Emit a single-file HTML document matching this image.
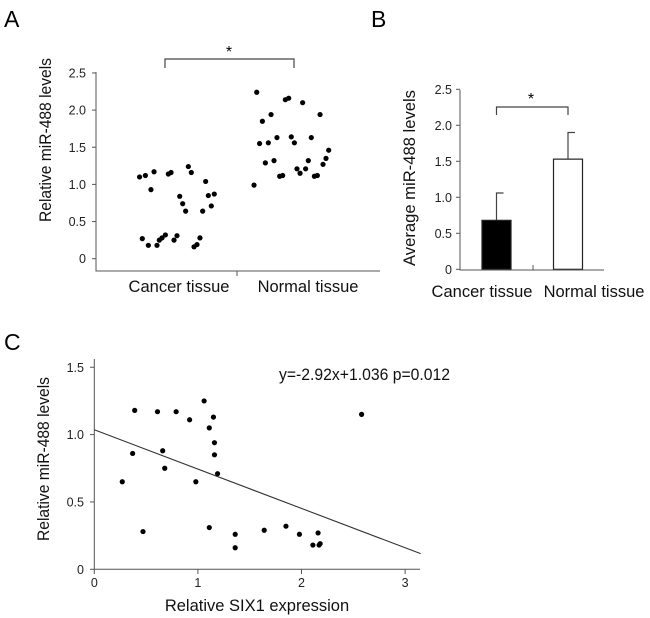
<!DOCTYPE html>
<html><head><meta charset="utf-8"><style>
html,body{margin:0;padding:0;background:#fff;}
svg{display:block;font-family:"Liberation Sans",Arial,sans-serif;}
</style></head><body>
<svg id="fig" width="650" height="618" viewBox="0 0 650 618">
<text x="4" y="27" font-size="23">A</text>
<text x="371" y="27" font-size="23">B</text>
<text x="4" y="350" font-size="23">C</text>
<g id="pa"></g>
<g id="pb"></g>
<g id="pc"></g>
</svg>
<script>
// Panel A data
const aCategories = ["Cancer tissue","Normal tissue"];
const aYTicks = [0,0.5,1.0,1.5,2.0,2.5];
const aYTickLabels = ["0","0.5","1.0","1.5","2.0","2.5"];
const aCancerY = [1.10,1.12,1.17,0.93,1.14,1.16,1.24,1.16,1.04,0.84,0.74,0.64,0.85,0.87,0.64,0.71,0.27,0.18,0.18,0.25,0.28,0.32,0.25,0.31,0.16,0.19,0.28];
const aCancerJitter = [-0.197,-0.152,-0.085,-0.109,0.026,0.047,0.181,0.204,0.315,0.114,0.137,0.160,0.336,0.382,0.292,0.359,-0.176,-0.129,-0.062,-0.044,-0.023,0.003,0.070,0.093,0.225,0.248,0.271];
const aNormalY = [2.24,2.14,2.16,2.10,1.94,1.85,1.94,1.55,1.56,1.63,1.64,1.56,1.63,1.46,1.35,1.27,1.32,1.21,1.21,1.15,1.29,1.32,1.11,1.12,1.11,1.12,0.99];
const aNormalJitter = [-0.289,-0.067,-0.041,0.067,-0.178,-0.245,0.202,-0.267,-0.199,-0.132,-0.021,0.003,0.134,0.269,0.248,0.225,0.111,0.090,0.023,0.047,-0.222,-0.155,-0.111,-0.088,0.158,0.181,-0.310];
// Panel B data
const bCategories = ["Cancer tissue","Normal tissue"];
const bMeans = [0.68,1.53];
const bErrors = [0.38,0.37];
const bYTicks = [0,0.5,1.0,1.5,2.0,2.5];
const bYTickLabels = ["0","0.5","1.0","1.5","2.0","2.5"];
// Panel C data
const cX = [0.27,0.37,0.39,0.47,0.61,0.66,0.68,0.79,0.92,0.98,1.06,1.11,1.11,1.15,1.16,1.16,1.19,1.36,1.36,1.64,1.85,1.98,2.11,2.16,2.17,2.18,2.58];
const cY = [0.65,0.86,1.18,0.28,1.17,0.88,0.75,1.17,1.11,0.65,1.25,1.05,0.31,1.13,0.94,0.85,0.71,0.26,0.16,0.29,0.32,0.26,0.18,0.27,0.18,0.19,1.15];
const cXTicks = [0,1,2,3];
const cYTicks = [0,0.5,1.0,1.5];
const cYTickLabels = ["0","0.5","1.0","1.5"];
const cFit = [-0.292,1.036];

const NS="http://www.w3.org/2000/svg";
function mk(parent,tag,attrs,text){const e=document.createElementNS(NS,tag);for(const k in attrs)e.setAttribute(k,attrs[k]);if(text!==undefined)e.textContent=text;parent.appendChild(e);return e;}

// ---- Panel A ----
(function(){
const g=document.getElementById('pa');
const yA=v=>258.7-v*74.3;
const xA=i=>165+i*129;
const ax=mk(g,'path',{d:'M96,72 V271 H380 M237,271 V276',stroke:'#555','stroke-width':1,fill:'none'});


aYTicks.forEach((t,i)=>{
 const tk=mk(g,'line',{x1:92,x2:96,y1:yA(t),y2:yA(t),stroke:'#555'});
 
 
 const tl=mk(g,'text',{x:86,y:yA(t)+4.5,'font-size':12.5,'text-anchor':'end',fill:'#222'},aYTickLabels[i]);
 
 
});
const yt=mk(g,'text',{transform:'translate(51,140) rotate(-90)','font-size':17,'text-anchor':'middle',textLength:164,lengthAdjust:'spacingAndGlyphs',fill:'#111'},'Relative miR-488 levels');


aCategories.forEach((c,i)=>{
 const t=mk(g,'text',{x:xA(i)+14,y:292,'font-size':16.5,'text-anchor':'middle',fill:'#111'},c);
 
 
});
aCancerY.forEach((v,i)=>{
 const d=mk(g,'circle',{cx:xA(0)+aCancerJitter[i]*129,cy:yA(v),r:2.6,fill:'#000'});
 
 
});
aNormalY.forEach((v,i)=>{
 const d=mk(g,'circle',{cx:xA(1)+aNormalJitter[i]*129,cy:yA(v),r:2.6,fill:'#000'});
 
 
});
const br=mk(g,'path',{d:'M165,68 V59 H294 V68',stroke:'#444',fill:'none','stroke-width':1.2});


const st=mk(g,'text',{x:229,y:57,'font-size':16,'text-anchor':'middle'},'*');


})();

// ---- Panel B ----
(function(){
const g=document.getElementById('pb');
const yB=v=>269.3-v*72;
const xB=i=>496.5+i*71.5;
bYTicks.forEach((t,i)=>{
 const tk=mk(g,'line',{x1:456,x2:460,y1:yB(t),y2:yB(t),stroke:'#555'});
 
 
 const tl=mk(g,'text',{x:452,y:yB(t)+4.5,'font-size':12.5,'text-anchor':'end',fill:'#222'},bYTickLabels[i]);
 
 
});
const yt=mk(g,'text',{transform:'translate(415,178) rotate(-90)','font-size':17,'text-anchor':'middle',textLength:176,lengthAdjust:'spacingAndGlyphs',fill:'#111'},'Average miR-488 levels');


bMeans.forEach((m,i)=>{
 const cx=xB(i);
 const eb=mk(g,'path',{d:`M${cx},${yB(m)} V${yB(m+bErrors[i])} H${cx+7}`,stroke:'#444',fill:'none','stroke-width':1.2});
 
 
 const b=mk(g,'rect',{x:cx-14.5,y:yB(m),width:29,height:yB(0)-yB(m),fill:i===0?'#000':'#fff',stroke:'#222','stroke-width':1.2});
 
 
});
const ax=mk(g,'path',{d:'M460,90 V270 H604 M533,270 V265',stroke:'#555','stroke-width':1,fill:'none'});


bCategories.forEach((c,i)=>{
 const t=mk(g,'text',{x:i===0?482:594,y:297,'font-size':16.5,'text-anchor':'middle',fill:'#111'},c);
 
 
});
const br=mk(g,'path',{d:'M496.5,115 V107 H568 V115',stroke:'#444',fill:'none','stroke-width':1.2});


const st=mk(g,'text',{x:531,y:104,'font-size':16,'text-anchor':'middle'},'*');


})();

// ---- Panel C ----
(function(){
const g=document.getElementById('pc');
const xC=v=>94.3+v*103.6;
const yC=v=>569.3-v*134.7;
const ax=mk(g,'path',{d:'M94.3,359 V569.3 H420',stroke:'#555','stroke-width':1,fill:'none'});


cXTicks.forEach(t=>{
 const tk=mk(g,'line',{x1:xC(t),x2:xC(t),y1:569.3,y2:574,stroke:'#555'});
 
 
 const tl=mk(g,'text',{x:xC(t),y:587,'font-size':12.5,'text-anchor':'middle',fill:'#222'},String(t));
 
 
});
cYTicks.forEach((t,i)=>{
 const tk=mk(g,'line',{x1:90,x2:94.3,y1:yC(t),y2:yC(t),stroke:'#555'});
 
 
 const tl=mk(g,'text',{x:84,y:yC(t)+4.5,'font-size':12.5,'text-anchor':'end',fill:'#222'},cYTickLabels[i]);
 
 
});
const yt=mk(g,'text',{transform:'translate(49,459) rotate(-90)','font-size':17,'text-anchor':'middle',textLength:164,lengthAdjust:'spacingAndGlyphs',fill:'#111'},'Relative miR-488 levels');


const xt=mk(g,'text',{x:257,y:611,'font-size':16.5,'text-anchor':'middle',fill:'#111'},'Relative SIX1 expression');


const x0=0,x1=3.15;
const fl=mk(g,'line',{x1:xC(x0),y1:yC(cFit[1]+cFit[0]*x0),x2:xC(x1),y2:yC(cFit[1]+cFit[0]*x1),stroke:'#333','stroke-width':1.1});


cX.forEach((v,i)=>{
 const d=mk(g,'circle',{cx:xC(v),cy:yC(cY[i]),r:2.6,fill:'#000'});
 
 
});
const eq=mk(g,'text',{x:279,y:380,'font-size':16.5,textLength:171,lengthAdjust:'spacingAndGlyphs',fill:'#111'},'y=-2.92x+1.036 p=0.012');


})();
</script>
</body></html>
